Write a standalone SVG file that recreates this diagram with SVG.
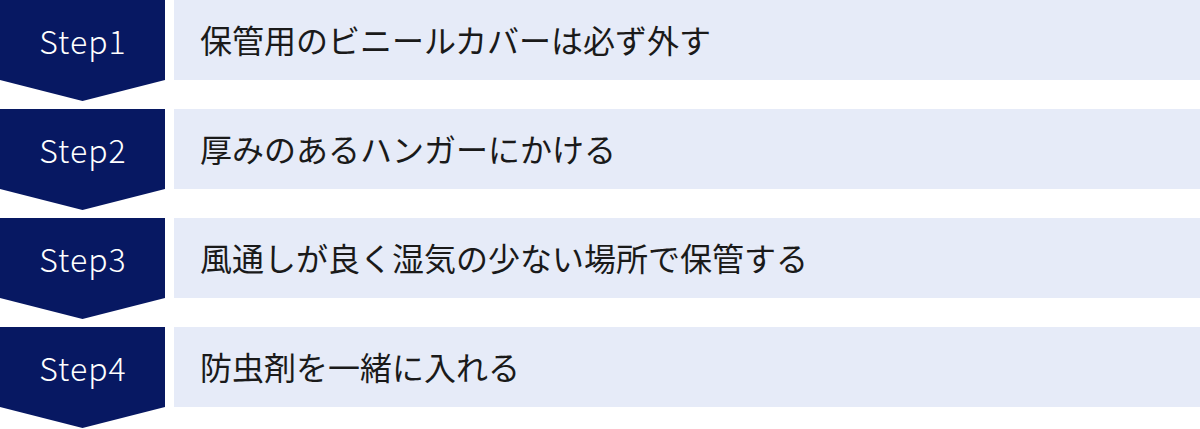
<svg xmlns="http://www.w3.org/2000/svg" width="1200" height="429" viewBox="0 0 1200 429">
  <defs>
    <style>
      .step { fill: #071862; }
      .box { fill: #e6ebf8; }
      .lbl { font-family: "Noto Sans CJK JP", "Noto Sans", sans-serif; font-weight: 300; font-size: 32px; letter-spacing: 1px; fill: #ffffff; text-anchor: middle; }
      .txt { font-family: "Noto Sans CJK JP", "Noto Sans", sans-serif; font-size: 32px; fill: #1a1a1a; }
    </style>
  </defs>
  <rect width="1200" height="429" fill="#ffffff"/>
  <g id="connectors"/>
  <g id="step1" transform="translate(0,0)">
    <polygon class="step" points="0,0 165,0 165,80 82.5,101 0,80"/>
    <rect class="box" x="174" y="0" width="1026" height="80"/>
    <text class="lbl" x="83" y="53.5">Step1</text>
    <text class="txt" x="200" y="52.5">保管用のビニールカバーは必ず外す</text>
  </g>
  <g id="step2" transform="translate(0,109)">
    <polygon class="step" points="0,0 165,0 165,80 82.5,101 0,80"/>
    <rect class="box" x="174" y="0" width="1026" height="80"/>
    <text class="lbl" x="83" y="53.5">Step2</text>
    <text class="txt" x="200" y="52.5">厚みのあるハンガーにかける</text>
  </g>
  <g id="step3" transform="translate(0,218)">
    <polygon class="step" points="0,0 165,0 165,80 82.5,101 0,80"/>
    <rect class="box" x="174" y="0" width="1026" height="80"/>
    <text class="lbl" x="83" y="53.5">Step3</text>
    <text class="txt" x="200" y="52.5">風通しが良く湿気の少ない場所で保管する</text>
  </g>
  <g id="step4" transform="translate(0,327)">
    <polygon class="step" points="0,0 165,0 165,80 82.5,101 0,80"/>
    <rect class="box" x="174" y="0" width="1026" height="80"/>
    <text class="lbl" x="83" y="53.5">Step4</text>
    <text class="txt" x="200" y="52.5">防虫剤を一緒に入れる</text>
  </g>
</svg>
